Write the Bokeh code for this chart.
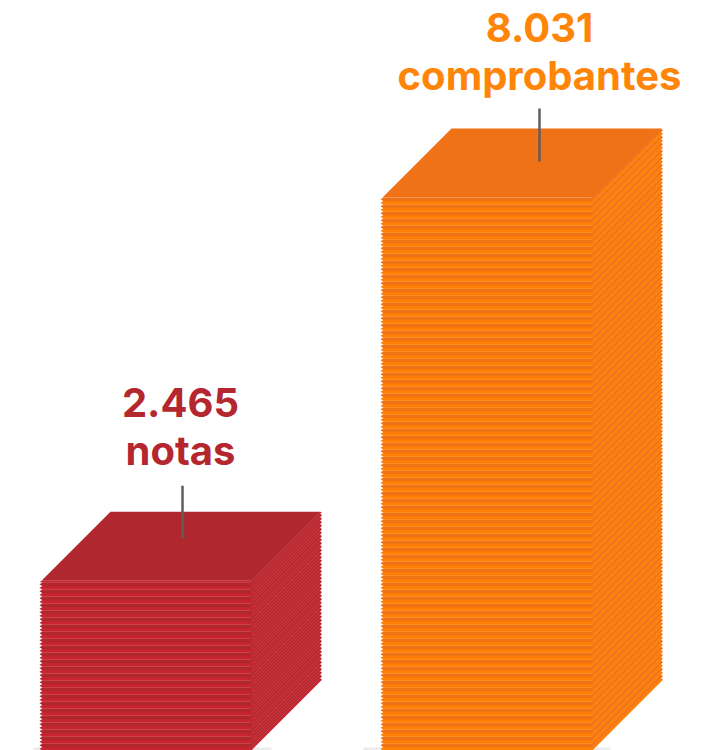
from bokeh.plotting import figure
from bokeh.embed import file_html
from bokeh.resources import INLINE
from bokeh.models import Range1d
from bokeh.core.properties import value as V

categories = ["notas", "comprobantes"]
values = [2465, 8031]
labels = [["2.465", "notas"], ["8.031", "comprobantes"]]

light = ["#C8242F", "#FF7F05"]
dark = ["#B0282D", "#EF7216"]
text_colors = ["#B5272E", "#FF8508"]
front_left = [41, 382]
front_w = 210
depth = 69
band = 3.5
shadow_span = [(33, 271), (363, 610)]
leader_x = [182, 539]
leader_span = [(42, 95), (36, 89)]
label_x = [180, 539]
label_off = [178, 170]
px_per_unit = 553 / 8031
W, H = 716, 750

p = figure(width=W, height=H, output_backend="svg", toolbar_location=None,
           x_range=Range1d(0, W), y_range=Range1d(0, H), min_border=0,
           outline_line_color=None, background_fill_color="white",
           styles={"position": "absolute", "left": "0", "top": "0"})
p.axis.visible = False
p.grid.visible = False

for i, val in enumerate(values):
    x0 = front_left[i]
    x1 = x0 + front_w
    total = val * px_per_unit
    p.quad(left=shadow_span[i][0], right=shadow_span[i][1], bottom=0, top=3,
           fill_color="#ECECEC", line_color=None)
    bands_x, bands_y, cols = [], [], []
    k = 0
    yb = 0.0
    ov = 0.3
    while yb < total - 0.01:
        yt = min(yb + band, total)
        ym = (yb + yt) / 2
        c = light[i] if k % 2 == 0 else dark[i]
        xr = x1 + depth
        # side band, toothed on the right edge
        bands_x.append([x1 - 0.5, xr - 0.5, xr + 1.5, xr - 0.5, x1 - 0.5])
        bands_y.append([yb - ov, yb + depth - ov, ym + depth, yt + depth, yt])
        cols.append(c)
        # front band, toothed on the left edge
        bands_x.append([x0 + 1, x0 - 2, x0 + 1, x1, x1])
        bands_y.append([yb - ov, ym, yt, yt, yb - ov])
        cols.append(c)
        yb = yt
        k += 1
    p.patches(bands_x, bands_y, fill_color=cols, line_color=None)
    p.patch([x0, x1, x1 + depth, x0 + depth], [total, total, total + depth, total + depth],
            fill_color=dark[i], line_color=None)
    cx = leader_x[i]
    p.line([cx, cx], [total + leader_span[i][0], total + leader_span[i][1]],
           line_color="#5E5E5E", line_width=2.5)
    for j, t in enumerate(labels[i]):
        p.text([label_x[i]], [total + label_off[i] - j * 48], text=[t], text_color=text_colors[i],
               text_font=V("Inter"), text_font_style="bold", text_font_size="40px",
               text_align="center", text_baseline="middle")

open("out.html", "w").write(file_html(p, INLINE))
